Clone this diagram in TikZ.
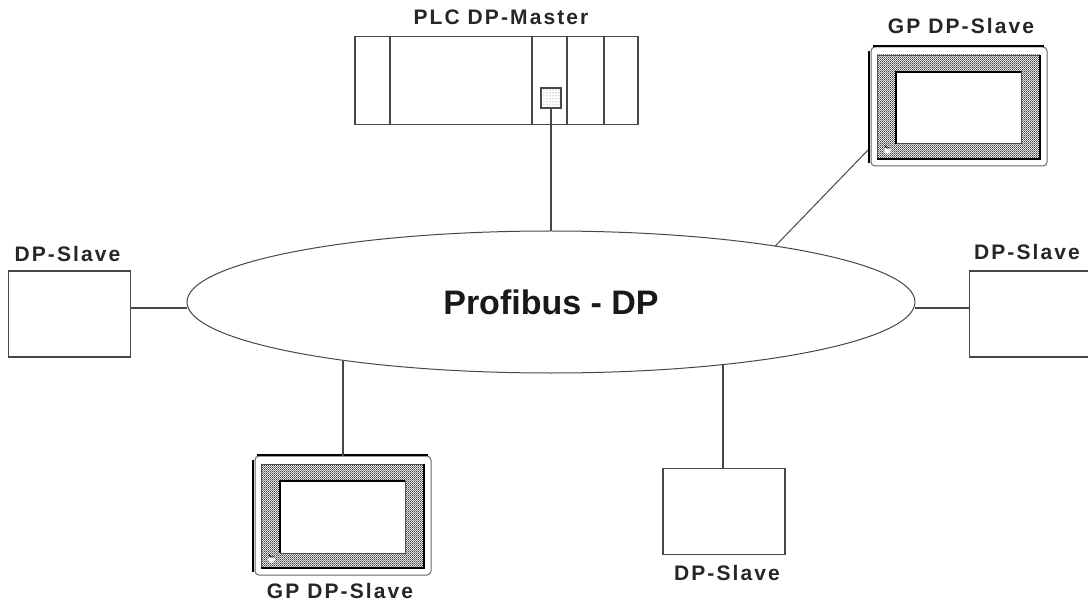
\documentclass[tikz,border=0pt]{standalone}
\usepackage{fontspec}
\usetikzlibrary{shapes.geometric,patterns}
\setmainfont{Liberation Sans}
\newfontfamily\lblfont[LetterSpace=10]{Liberation Sans}
\pgfdeclarepatternformonly{dither}{\pgfqpoint{-0.5bp}{-0.5bp}}{\pgfqpoint{1.5bp}{1.5bp}}{\pgfqpoint{2bp}{2bp}}{%
  \pgfpathrectangle{\pgfqpoint{0bp}{0bp}}{\pgfqpoint{1bp}{1bp}}%
  \pgfpathrectangle{\pgfqpoint{1bp}{1bp}}{\pgfqpoint{1bp}{1bp}}%
  \pgfusepath{fill}}
\tikzset{
  px/.style={x=1bp,y=-1bp},
  wire/.style={draw=black!72,line width=1.3bp},
  thinwire/.style={draw=black!72,line width=1bp},
  slavebox/.style={draw=black!72,line width=1.2bp,fill=white,rectangle,minimum width=122bp,minimum height=86bp,inner sep=0,outer sep=0},
  lbl/.style={font=\lblfont\bfseries\fontsize{21bp}{24bp}\selectfont,text=black!85,inner sep=0,anchor=base},
  buslbl/.style={font=\bfseries\fontsize{34bp}{38bp}\selectfont,text=black!90,inner sep=0,anchor=base},
  pics/gpslave/.style={code={
    \node[rectangle,rounded corners=4bp,draw=black!60,line width=1bp,minimum width=176bp,minimum height=119bp,inner sep=0,outer sep=0] (-frame) at (2,0.5) {};
    \draw[black,line width=2.6bp] (-84,-60) -- (87,-60);
    \draw[black,line width=2.6bp] (-88,-55) -- (-88,57);
    \fill[pattern=dither,pattern color=black!75,draw=black!70,line width=0.8bp] (-80,-51) rectangle (83,53);
    \draw[black,line width=2.6bp] (-80,53) -- (83,53) -- (83,-51);
    \fill[white,draw=black!70,line width=1bp] (-61,-34) rectangle (64,38);
    \draw[black,line width=2.6bp] (-61,38) -- (-61,-34) -- (64,-34);
    \fill[white] (-69.5,44.5) circle (3.4bp);
    \draw[black,line width=1bp] (-67.5,41.8) arc (-60:-170:3bp);
    \coordinate (-port) at (-89,44);
  }}
}
\begin{document}
\begin{tikzpicture}[px]
\useasboundingbox (0,0) rectangle (1088,604);
\fill[white] (0,0) rectangle (1088,604);
% bus
\node[ellipse,draw=black!72,line width=1bp,minimum width=728bp,minimum height=142bp,inner sep=0,outer sep=0] (bus) at (551,302) {};
\node[buslbl] (buslabel) at (551,315) {Profibus - DP};
% PLC
\node[rectangle,draw=black!72,line width=1.2bp,minimum width=283bp,minimum height=88bp,inner sep=0] (plc) at (496.5,80.5) {};
\draw[wire] (390,36.5) -- (390,124.5);
\draw[wire] (532,36.5) -- (532,124.5);
\draw[wire] (567,36.5) -- (567,124.5);
\draw[wire] (604,36.5) -- (604,124.5);
\node[rectangle,draw=black!72,line width=1.2bp,pattern=dots,pattern color=black!55,minimum width=20bp,minimum height=20bp,inner sep=0,outer sep=0] (port) at (551,98) {};
\node[lbl] (plclabel) at (501,25) {PLC DP-Master};
\draw[wire] (port.south) -- (port.south |- bus.north);
% slaves
\node[slavebox] (s1) at (69.5,314) {};
\node[lbl] (s1l) at (67.5,262) {DP-Slave};
\draw[wire] (s1.east |- 0,308) -- (bus.west |- 0,308);
\node[slavebox,minimum width=140bp] (s2) at (1039.5,314) {};
\node[lbl] (s2l) at (1027,260) {DP-Slave};
\draw[wire] (bus.east |- 0,308) -- (s2.west |- 0,308);
\node[slavebox] (s3) at (724,511.5) {};
\node[lbl] (s3l) at (727,580) {DP-Slave};
\draw[wire] (bus.-20.6) -- (bus.-20.6 |- s3.north);
% GP units
\pic (gp1) at (341,515) {gpslave};
\node[lbl] (gp1l) at (340,598) {GP DP-Slave};
\draw[wire] (gp1-frame.north) -- (gp1-frame.north |- bus.196.4);
\pic (gp2) at (957,106) {gpslave};
\node[lbl] (gp2l) at (961,34) {GP DP-Slave};
\draw[thinwire] (bus.14.72) -- (gp2-port);
\end{tikzpicture}
\end{document}
